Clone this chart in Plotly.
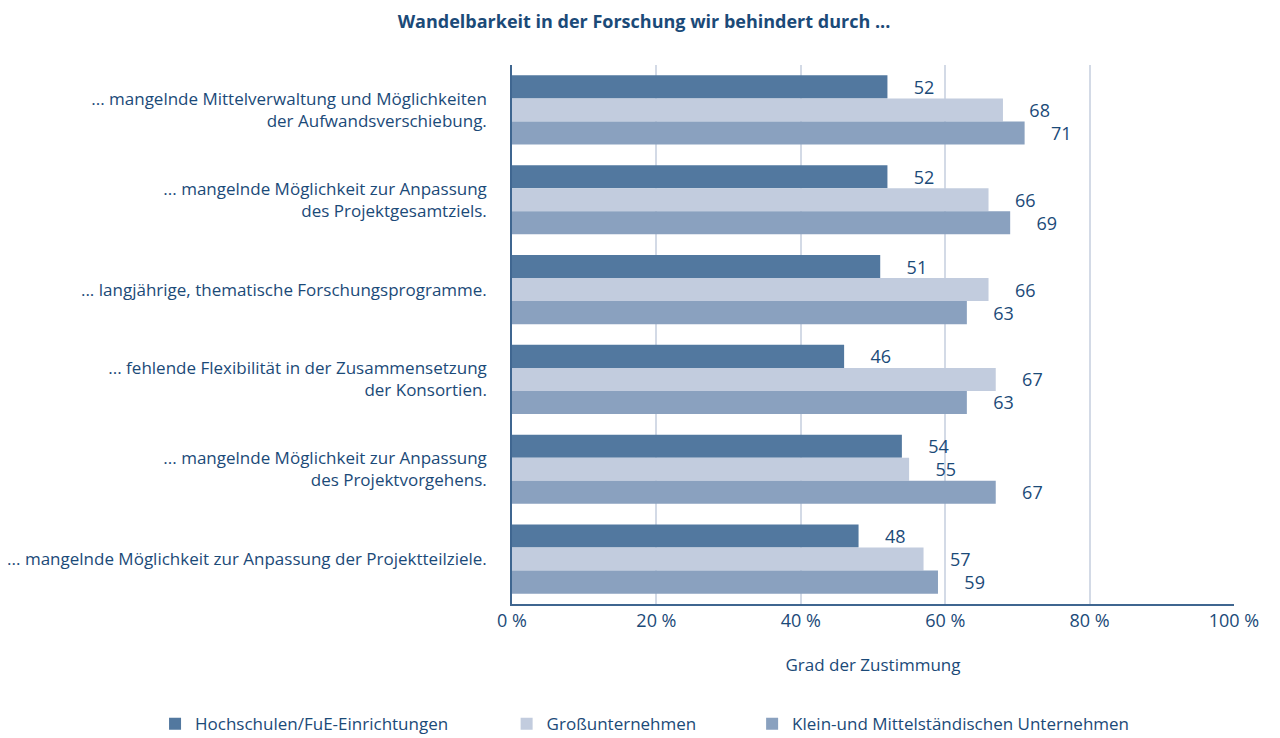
import plotly.graph_objects as go

categories = [
    "... mangelnde Mittelverwaltung und Möglichkeiten<br>der Aufwandsverschiebung.",
    "... mangelnde Möglichkeit zur Anpassung<br>des Projektgesamtziels.",
    "... langjährige, thematische Forschungsprogramme.",
    "... fehlende Flexibilität in der Zusammensetzung<br>der Konsortien.",
    "... mangelnde Möglichkeit zur Anpassung<br>des Projektvorgehens.",
    "... mangelnde Möglichkeit zur Anpassung der Projektteilziele.",
]
hochschulen = [52, 52, 51, 46, 54, 48]
gross = [68, 66, 66, 67, 55, 57]
kmu = [71, 69, 63, 63, 67, 59]
series_names = ["Hochschulen/FuE-Einrichtungen", "Großunternehmen", "Klein-und Mittelständischen Unternehmen"]
colors = ["#52789F", "#C2CCDE", "#8AA1BF"]
x_ticks = [0, 20, 40, 60, 80, 100]
x_tick_labels = ["0 %", "20 %", "40 %", "60 %", "80 %", "100 %"]

navy = "#1B4A78"
font_family = "Open Sans, sans-serif"
legend_ids = ["legend", "legend2", "legend3"]
legend_x = [0.1156, 0.392, 0.585]

fig = go.Figure()
for name, vals, col, lid in zip(series_names, [hochschulen, gross, kmu], colors, legend_ids):
    fig.add_trace(go.Bar(
        y=categories, x=vals, name=name, orientation="h",
        marker=dict(color=col, line=dict(width=0)),
        text=vals, texttemplate="     %{x}", textposition="outside",
        constraintext="none",
        textfont=dict(color=navy, size=18, family=font_family),
        cliponaxis=False, legend=lid,
    ))

legend_common = dict(orientation="h", xref="container", yref="container",
                     y=0.019, yanchor="middle", xanchor="left",
                     font=dict(size=17, color=navy, family=font_family),
                     bgcolor="rgba(0,0,0,0)")

fig.update_layout(
    width=1272, height=730,
    barmode="group", bargap=0.23, bargroupgap=0,
    plot_bgcolor="white", paper_bgcolor="white",
    margin=dict(l=504, r=46, t=57, b=134, autoexpand=False),
    font=dict(family=font_family, color=navy, size=17),
    title=dict(text="<b>Wandelbarkeit in der Forschung wir behindert durch ...</b>",
               x=0.5, xanchor="center", y=0.981, yanchor="middle",
               font=dict(size=18, color=navy, family=font_family), automargin=False),
    xaxis=dict(range=[0, 100], tickvals=x_ticks, ticktext=x_tick_labels,
               showgrid=True, gridcolor="#D3DAE6", gridwidth=1.5,
               showline=True, linecolor="#3F6690", linewidth=1.5,
               zeroline=False, ticks="", ticklen=0, automargin=False,
               tickfont=dict(size=18, color=navy),
               title=dict(text="Grad der Zustimmung", font=dict(size=17, color=navy), standoff=28)),
    yaxis=dict(autorange="reversed", showline=True, linecolor="#3F6690", linewidth=1.5,
               showgrid=False, ticks="", ticklabelstandoff=20, automargin=False,
               tickfont=dict(size=17, color=navy)),
    legend=dict(x=legend_x[0], **legend_common),
    legend2=dict(x=legend_x[1], **legend_common),
    legend3=dict(x=legend_x[2], **legend_common),
    showlegend=True,
)

fig.write_html("out.html")
